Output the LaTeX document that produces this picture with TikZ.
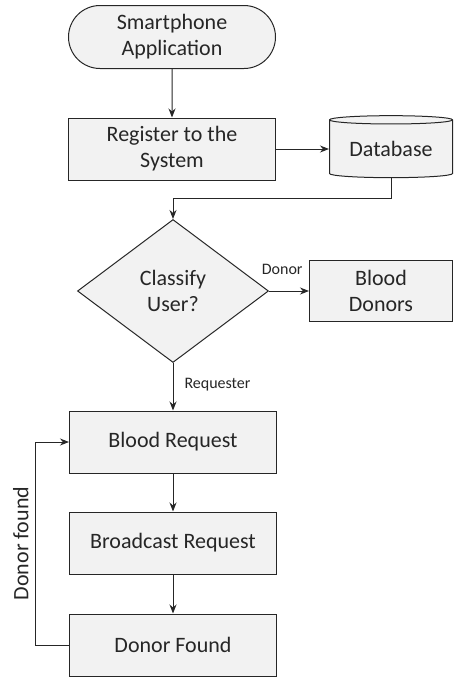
\documentclass[tikz,border=0pt]{standalone}
\usepackage{fontspec}
\setmainfont{Carlito}
\usetikzlibrary{shapes.geometric,shapes.misc,arrows.meta}
\definecolor{boxfill}{RGB}{242,242,242}
\definecolor{ink}{RGB}{38,38,38}
\begin{document}
\begin{tikzpicture}[x=1pt,y=-1pt,line width=1pt,draw=ink,text=ink,
  >={Stealth[length=9pt,width=7pt]},
  every node/.style={font=\fontsize{22}{26}\selectfont,align=center},
  stepbox/.style={draw,fill=boxfill,minimum width=207pt,minimum height=62pt,inner sep=0pt},
  small/.style={font=\fontsize{16}{19}\selectfont,inner sep=2pt}]
\useasboundingbox (0,0) rectangle (454,678);

\node[draw,fill=boxfill,rounded rectangle,minimum width=207pt,minimum height=63pt,inner sep=0pt] (app) at (172,37) {Smartphone\\Application};
\node[stepbox] (reg) at (172,149) {Register to the\\System};
\node[draw,fill=boxfill,cylinder,shape border rotate=90,aspect=0.1,minimum width=123pt,minimum height=62pt,inner sep=0pt] (db) at (391,149) {Database};
\node[draw,fill=boxfill,diamond,aspect=1.34,minimum width=191pt,minimum height=143pt,inner sep=0pt] (cls) at (173,291) {Classify\\User?};
\node[stepbox,minimum width=143pt,minimum height=61pt] (donors) at (381,291) {Blood\\Donors};

\foreach \nm/\y/\txt in {breq/442/Blood Request,bcast/543/Broadcast Request,found/645/Donor Found}
  \node[stepbox] (\nm) at (173,\y) {\txt};

\draw[->] (app) -- (reg);
\draw[->] (reg) -- (db);
\draw[->] (db.south) -- ++(0,20) -| (cls.north);
\draw[->] (cls.east) -- node[small,pos=0.33,above=14pt]{Donor} (donors.west);
\draw[->] (cls.south) -- node[small,pos=0.46,anchor=west,xshift=9pt]{Requester} (breq.north);
\foreach \a/\b in {breq/bcast,bcast/found}
  \draw[->] (\a) -- (\b);
\draw[->] (found.west) -- ++(-34,0) |- node[pos=0.25,sloped,above=6pt,inner sep=0pt]{Donor found} (breq.west);
\end{tikzpicture}
\end{document}
